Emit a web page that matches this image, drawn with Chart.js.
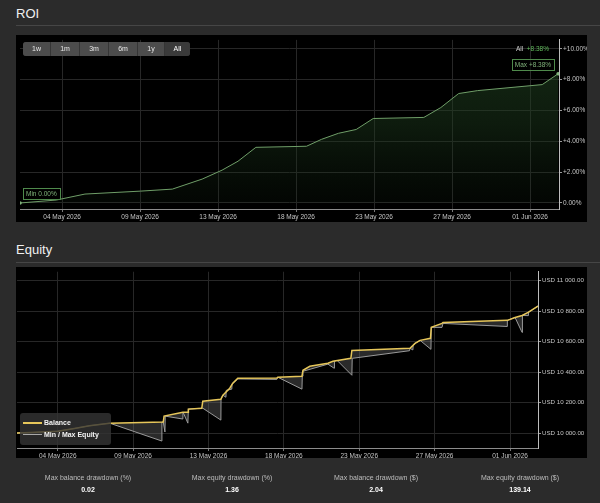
<!DOCTYPE html>
<html><head><meta charset="utf-8">
<script src="https://cdn.jsdelivr.net/npm/chart.js@4.4.1/dist/chart.umd.min.js"></script>
<style>
html,body{margin:0;padding:0;background:#2b2b2b;width:600px;height:503px;overflow:hidden;font-family:"Liberation Sans",Arial,sans-serif;}
.title{position:absolute;left:16px;color:#f0f0f0;font-size:13px;line-height:15px;}
.sep{position:absolute;left:16px;width:584px;height:1px;background:#464646;}
.panel{position:absolute;left:16px;width:571px;background:#000;}
.panel canvas{position:absolute;left:0;top:0;}
#btns{position:absolute;left:7px;top:7px;height:14px;display:flex;gap:1px;background:#353535;border-radius:3px;overflow:hidden;}
#btns span{display:block;height:14px;line-height:14px;text-align:center;font-size:7px;color:#e8e8e8;background:#4c4c4c;}
#btns span.sel{background:#3a3a3a;color:#fff;}
#legend{position:absolute;left:4px;width:91px;height:32px;background:rgba(52,52,52,0.8);border-radius:3px;}
#legend .it{position:absolute;left:3px;height:10px;font-size:7px;font-weight:bold;color:#f2f2f2;line-height:10px;}
#legend .sw{position:absolute;left:0;top:4px;width:19px;height:2px;}
#legend .tx{position:absolute;left:21px;top:0;white-space:nowrap;}
.stat{position:absolute;width:144px;text-align:center;font-size:7px;}
.stat .l{color:#bdbdbd;}
.stat .v{color:#fff;font-weight:bold;margin-top:5px;}
</style></head>
<body>
<div class="title" style="top:6px">ROI</div>
<div class="sep" style="top:25px"></div>
<div class="panel" id="roiPanel" style="top:35px;height:187px;">
  <canvas id="roi" width="571" height="187"></canvas>
  <div id="btns"></div>
</div>
<div class="title" style="top:242px">Equity</div>
<div class="sep" style="top:262px"></div>
<div class="panel" id="eqPanel" style="top:267px;height:191px;">
  <canvas id="eq" width="571" height="191"></canvas>
  <div id="legend" style="top:146px">
    <div class="it" style="top:5px"><div class="sw" style="background:#e6c65a"></div><div class="tx">Balance</div></div>
    <div class="it" style="top:17px"><div class="sw" style="background:#a8a8a8;height:1px"></div><div class="tx">Min / Max Equity</div></div>
  </div>
</div>
<div id="stats"></div>
<script>
// ---------- data ----------
const rangeButtons = ['1w','1m','3m','6m','1y','All'];
const buttonWidths = [27,28,28,28,26,25];
const tickDays = [0,4.5,9,13.5,18,22.5,27];
const tickLabels = ['04 May 2026','09 May 2026','13 May 2026','18 May 2026','23 May 2026','27 May 2026','01 Jun 2026'];
const roiTicks = [0,2,4,6,8,10];
const equityTicks = [10000,10200,10400,10600,10800,11000];

const roiDays   = [-2.43,-0.34,1.32,4.53,6.36,8.08,9.23,10.15,11.18,14.10,14.97,15.94,16.97,17.95,20.87,21.85,22.88,23.97,27.70,28.62];
const roiValues = [0,0.19,0.58,0.77,0.90,1.55,2.13,2.71,3.61,3.68,4.13,4.52,4.77,5.48,5.55,6.19,7.10,7.29,7.68,8.38];

const balanceDays   = [-2.43,-1.6,0,1.0,1.9,3.1,6.3,6.35,7.47,7.78,7.8,8.6,8.66,9.74,9.86,10.27,10.45,10.75,13.08,13.14,14.58,14.64,15.05,16.13,16.43,17.5,17.56,21.03,21.33,21.63,22.25,22.3,22.94,23.0,26.85,27.3,27.72,28.08,28.67];
const balanceValues = [10000,10003,10012,10030,10048,10065,10072,10111,10137,10137,10157,10163,10209,10222,10248,10294,10327,10359,10361,10366,10373,10412,10438,10458,10471,10490,10542,10556,10588,10608,10621,10693,10719,10725,10739,10758,10771,10791,10833];

const equityDays   = [-2.43,-1.6,0,1.0,1.9,3.1,6.21,6.22,6.3,6.4,6.42,7.47,7.48,7.77,7.8,8.6,8.66,9.74,9.75,9.86,10.04,10.06,10.39,10.41,10.75,13.08,13.14,14.58,14.6,14.64,16.13,16.5,16.52,16.67,17.56,17.58,21.0,21.03,21.2,21.22,21.33,21.63,22.28,22.3,22.94,23.0,26.82,26.84,27.3,27.72,27.74,28.08,28.1,28.67];
const equityValues = [10000,10003,10012,10030,10048,10065,9948,10072,10072,10007,10111,10092,10137,10065,10157,10163,10163,10085,10222,10248,10235,10280,10288,10320,10355,10352,10366,10288,10373,10405,10452,10425,10471,10477,10379,10490,10540,10556,10545,10575,10588,10608,10549,10693,10693,10719,10699,10739,10758,10660,10771,10770,10791,10833];

const statLabels = ['Max balance drawdown (%)','Max equity drawdown (%)','Max balance drawdown ($)','Max equity drawdown ($)'];
const statValues = ['0.02','1.36','2.04','139.14'];

// ---------- html bits ----------
const btns = document.getElementById('btns');
rangeButtons.forEach((b,i)=>{const s=document.createElement('span');s.textContent=b;s.style.width=buttonWidths[i]+'px';if(b==='All')s.className='sel';btns.appendChild(s);});
const stats = document.getElementById('stats');
statLabels.forEach((l,i)=>{const d=document.createElement('div');d.className='stat';d.style.left=(16+i*144)+'px';d.style.top='474px';
 d.innerHTML='<div class="l"></div><div class="v"></div>';d.querySelector('.l').textContent=l;d.querySelector('.v').textContent=statValues[i];stats.appendChild(d);});

// ---------- charts ----------
Chart.defaults.font.family = '"Liberation Sans", Arial, sans-serif';
Chart.defaults.font.size = 6.5;
Chart.defaults.animation = false;

const gridColor = '#272727';
function xScale(h){
  return {type:'linear',min:-2.43,max:28.67,
    afterBuildTicks:s=>{s.ticks=tickDays.map(v=>({value:v}));},
    ticks:{color:'#c4c4c4',maxRotation:0,autoSkip:false,padding:1,callback:(v,i)=>tickLabels[i]},
    grid:{color:gridColor,tickColor:'#777',tickLength:3},
    border:{color:'#8c8c8c'},
    afterFit:s=>{s.height=h;}};
}

const roiLabels = {id:'roiLabels',afterDatasetsDraw(chart){
  const {ctx,chartArea:a,scales:{x,y}}=chart;
  const n=roiValues.length-1;
  const mx=Math.max(...roiValues), mn=Math.min(...roiValues);
  const iMax=roiValues.indexOf(mx), iMin=roiValues.indexOf(mn);
  ctx.save();
  ctx.font='6.5px "Liberation Sans", Arial';
  ctx.textBaseline='middle';ctx.textAlign='left';
  const t2='+'+roiValues[n].toFixed(2)+'%';
  const w2=ctx.measureText(t2).width, w1=ctx.measureText('All  ').width;
  const rx=a.right-10, ty=a.top+9;
  ctx.fillStyle='#5fb85a';ctx.fillText(t2,rx-w2,ty);
  ctx.fillStyle='#d0d0d0';ctx.fillText('All',rx-w2-w1,ty);
  function box(txt,left,bottom){
    const w=ctx.measureText(txt).width+6,h=11;
    ctx.fillStyle='rgba(0,0,0,0.6)';ctx.fillRect(left,bottom-h,w,h);
    ctx.strokeStyle='#4f8a4c';ctx.lineWidth=1;ctx.strokeRect(Math.round(left)+0.5,Math.round(bottom-h)+0.5,Math.round(w),h);
    ctx.fillStyle='#7fb27a';ctx.fillText(txt,left+3,bottom-h/2+0.5);
  }
  const maxTxt='Max +'+mx.toFixed(2)+'%';
  const px=x.getPixelForValue(roiDays[iMax]), py=y.getPixelForValue(mx);
  box(maxTxt,px-4-(ctx.measureText(maxTxt).width+6),py-4);
  const minTxt='Min '+mn.toFixed(2)+'%';
  const qx=x.getPixelForValue(roiDays[iMin]), qy=y.getPixelForValue(mn);
  box(minTxt,qx+3,qy-4);
  ctx.restore();
}};

new Chart(document.getElementById('roi'),{
  type:'line',
  data:{datasets:[{
    data:roiDays.map((d,i)=>({x:d,y:roiValues[i]})),
    borderColor:'#6f9e68',borderWidth:1,tension:0,
    pointRadius:c=>(c.dataIndex===0||c.dataIndex===roiValues.length-1)?1.8:0,
    pointBackgroundColor:'#7fb27a',pointBorderWidth:0,
    fill:'origin',
    backgroundColor:c=>{const a=c.chart.chartArea;if(!a)return 'rgba(30,60,30,0.4)';
      const g=c.chart.ctx.createLinearGradient(0,a.top,0,a.bottom);
      g.addColorStop(0,'rgba(34,70,34,0.6)');g.addColorStop(0.5,'rgba(30,60,30,0.45)');g.addColorStop(1,'rgba(20,40,20,0.12)');return g;}
  }]},
  options:{responsive:false,animation:false,events:[],
    layout:{padding:{left:1,top:3,right:0,bottom:0}},
    plugins:{legend:{display:false},tooltip:{enabled:false}},
    scales:{
      x:xScale(13),
      y:{position:'right',min:-0.39,max:10.58,
        afterBuildTicks:s=>{s.ticks=roiTicks.map(v=>({value:v}));},
        ticks:{color:'#c4c4c4',padding:1,callback:v=>(v>0?'+':'')+v.toFixed(2)+'%'},
        grid:{color:gridColor,tickColor:'#999',tickLength:3},
        border:{color:'#bdbdbd'},
        afterFit:s=>{s.width=28;}}
    }},
  plugins:[roiLabels]
});

new Chart(document.getElementById('eq'),{
  type:'line',
  data:{datasets:[
    {label:'Balance',data:balanceDays.map((d,i)=>({x:d,y:balanceValues[i]})),
     borderColor:'#e6c65a',borderWidth:1.5,pointRadius:0,tension:0,fill:false,order:0},
    {label:'Min / Max Equity',data:equityDays.map((d,i)=>({x:d,y:equityValues[i]})),
     borderColor:'#9a9a9a',borderWidth:1,pointRadius:0,tension:0,
     fill:'-1',backgroundColor:'rgba(110,110,110,0.38)',order:1}
  ]},
  options:{responsive:false,animation:false,events:[],
    layout:{padding:{left:1,top:4,right:0,bottom:0}},
    plugins:{legend:{display:false},tooltip:{enabled:false}},
    scales:{
      x:xScale(10),
      y:{position:'right',min:9902,max:11058,
        afterBuildTicks:s=>{s.ticks=equityTicks.map(v=>({value:v}));},
        ticks:{color:'#c4c4c4',padding:1,font:{size:6.2},callback:v=>'USD '+Math.floor(v/1000)+' '+String(v%1000).padStart(3,'0')+'.00'},
        grid:{color:gridColor,tickColor:'#999',tickLength:3},
        border:{color:'#bdbdbd'},
        afterFit:s=>{s.width=49;}}
    }}
});
</script>
</body></html>
